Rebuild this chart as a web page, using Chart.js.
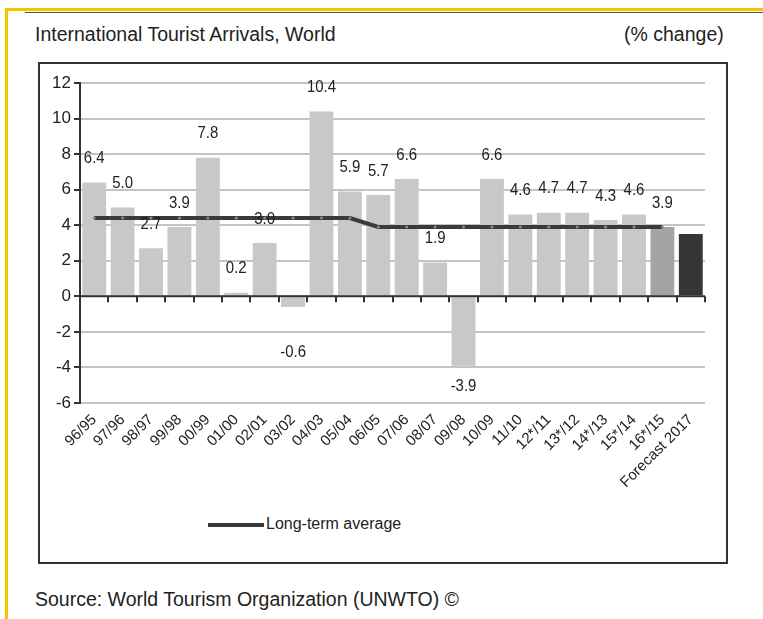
<!DOCTYPE html>
<html>
<head>
<meta charset="utf-8">
<script src="https://cdn.jsdelivr.net/npm/chart.js"></script>
<style>
    html, body { margin: 0; padding: 0; background: #fff; }
    body { width: 763px; height: 619px; position: relative; overflow: hidden;
           font-family: 'Liberation Sans', Arial, sans-serif; color: #222; }
    .frame-top { position: absolute; left: 5px; top: 8px; width: 758px; height: 3px; background: #ffc000; }
    .frame-left { position: absolute; left: 5px; top: 8px; width: 3px; height: 611px; background: #ffc000; }
    .rule { position: absolute; left: 25px; top: 12px; width: 738px; height: 1px; background: #555; }
    .title, .unit, .source, .legend .text { white-space: nowrap; }
    .title { position: absolute; left: 35px; top: 23px; font-size: 19.5px; }
    .unit { position: absolute; left: 624px; top: 23px; font-size: 19.5px; }
    .box { position: absolute; left: 38px; top: 62px; width: 686px; height: 498px; border: 2px solid #333; }
    .source { position: absolute; left: 35px; top: 588px; font-size: 19.5px; }
    .legend { position: absolute; left: 208px; top: 514px; height: 20px; }
    .legend .swatch { position: absolute; left: 0; top: 9px; width: 56px; height: 4px; background: #3a3a3a; }
    .legend .text { position: absolute; left: 58px; top: 1px; font-size: 16px; }
    #chart { position: absolute; left: 0; top: 0; }
</style>
</head>
<body>
<div class="frame-top"></div>
<div class="frame-left"></div>
<div class="rule"></div>
<div class="title">International Tourist Arrivals, World</div>
<div class="unit">(% change)</div>
<div class="box"></div>
<div class="legend"><div class="swatch"></div><div class="text">Long-term average</div></div>
<div class="source">Source: World Tourism Organization (UNWTO) ©</div>
<canvas id="chart" width="763" height="619"></canvas>

<script>
// Data
const categories = ['96/95', '97/96', '98/97', '99/98', '00/99', '01/00', '02/01', '03/02', '04/03', '05/04',
    '06/05', '07/06', '08/07', '09/08', '10/09', '11/10', '12*/11', '13*/12', '14*/13', '15*/14', '16*/15', 'Forecast 2017'];
const growth = [6.4, 5.0, 2.7, 3.9, 7.8, 0.2, 3.0, -0.6, 10.4, 5.9,
    5.7, 6.6, 1.9, -3.9, 6.6, 4.6, 4.7, 4.7, 4.3, 4.6, 3.9, 3.5];
const longTermAverage = [4.4, 4.4, 4.4, 4.4, 4.4, 4.4, 4.4, 4.4, 4.4, 4.4,
    3.9, 3.9, 3.9, 3.9, 3.9, 3.9, 3.9, 3.9, 3.9, 3.9, 3.9, null];
const yTicks = [-6, -4, -2, 0, 2, 4, 6, 8, 10, 12];

const FONT = "'Liberation Sans', Arial, sans-serif";
const lastIdx = categories.length - 1;

// Bar colours: regular years light grey, preliminary year darker, forecast dark
const barColors = growth.map((v, i) => i === lastIdx ? '#363636' : (i === lastIdx - 1 ? '#a4a4a4' : '#c8c8c8'));

// Zero axis with tick marks between categories (the axis line sits at 0, not at the bottom)
const zeroAxis = {
    id: 'zeroAxis',
    afterDatasetsDraw(chart) {
        const { ctx, chartArea, scales } = chart;
        const y0 = scales.y.getPixelForValue(0);
        const step = (chartArea.right - chartArea.left) / categories.length;
        ctx.save();
        ctx.strokeStyle = '#333';
        ctx.lineWidth = 2;
        ctx.beginPath();
        ctx.moveTo(chartArea.left, y0);
        ctx.lineTo(chartArea.right, y0);
        for (let i = 1; i <= categories.length; i++) {
            const x = Math.round(chartArea.left + i * step);
            ctx.moveTo(x, y0);
            ctx.lineTo(x, y0 + 6);
        }
        ctx.stroke();
        ctx.restore();
    }
};

// Value labels above / below each bar (forecast bar is not labelled)
const valueLabels = {
    id: 'valueLabels',
    afterDatasetsDraw(chart) {
        const { ctx, scales } = chart;
        const meta = chart.getDatasetMeta(1);
        const y0 = scales.y.getPixelForValue(0);
        ctx.save();
        ctx.font = '17px ' + FONT;
        ctx.fillStyle = '#222';
        ctx.textAlign = 'center';
        ctx.textBaseline = 'middle';
        meta.data.forEach((bar, i) => {
            if (i === lastIdx) return;
            const v = growth[i];
            // negative labels never sit closer than ~56px below the zero line
            const y = v >= 0 ? bar.y - 24 : Math.max(bar.y + 21, y0 + 56);
            ctx.save();
            ctx.translate(bar.x, y);
            ctx.scale(0.88, 1);
            ctx.fillText(v.toFixed(1), 0, 0);
            ctx.restore();
        });
        ctx.restore();
    }
};

new Chart(document.getElementById('chart'), {
    type: 'bar',
    data: {
        labels: categories,
        datasets: [
            {
                type: 'line',
                label: 'Long-term average',
                data: longTermAverage,
                borderColor: '#3a3a3a',
                borderWidth: 4,
                pointRadius: 1.5,
                pointBackgroundColor: '#8a8a8a',
                pointBorderWidth: 0,
                tension: 0,
                order: 0
            },
            {
                type: 'bar',
                label: 'Growth',
                data: growth,
                backgroundColor: barColors,
                borderWidth: 0,
                categoryPercentage: 1,
                barPercentage: 0.84,
                order: 1
            }
        ]
    },
    options: {
        responsive: false,
        animation: false,
        layout: { padding: { top: 83, right: 58, left: 0, bottom: 0 } },
        plugins: {
            legend: { display: false },
            tooltip: { enabled: false }
        },
        scales: {
            x: {
                grid: { display: false },
                border: { display: false },
                ticks: {
                    minRotation: 45,
                    maxRotation: 45,
                    autoSkip: false,
                    color: '#222',
                    font: { family: FONT, size: 15 },
                    padding: 0
                },
                afterFit(scale) { scale.height = 216; }
            },
            y: {
                min: -6,
                max: 12,
                afterBuildTicks(scale) { scale.ticks = yTicks.map(v => ({ value: v })); },
                grid: { color: '#c4c4c4', lineWidth: 2, tickColor: '#333', tickLength: 6, tickWidth: 2 },
                border: { display: true, color: '#333', width: 2 },
                ticks: {
                    color: '#222',
                    font: { family: FONT, size: 17 },
                    padding: 3
                },
                afterFit(scale) { scale.width = 80; }
            }
        }
    },
    plugins: [zeroAxis, valueLabels]
});
</script>
</body>
</html>
